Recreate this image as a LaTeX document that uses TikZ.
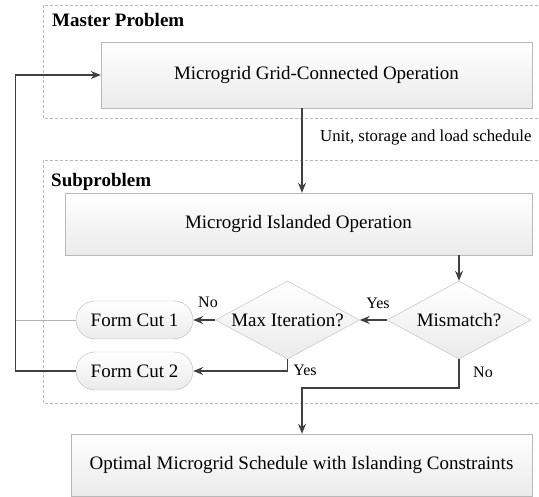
\documentclass[tikz,border=0pt]{standalone}
\usepackage{fontspec}
\setmainfont{Liberation Serif}
\usetikzlibrary{shapes.geometric,arrows.meta}

\begin{document}
\begin{tikzpicture}[x=1pt,y=-1pt,
    box/.style={draw=gray!55, top color=white, bottom color=gray!16, inner sep=0pt,
                font=\fontsize{19}{22}\selectfont},
    decide/.style={diamond, draw=gray!55, top color=white, bottom color=gray!16, aspect=1.9,
                minimum width=144pt, minimum height=78pt, inner sep=0pt, font=\fontsize{19}{22}\selectfont},
    cut/.style={draw=gray!55, top color=white, bottom color=gray!16, rounded corners=19pt,
                minimum width=117pt, minimum height=38pt, font=\fontsize{19}{22}\selectfont},
    frame/.style={draw=gray!55, dash pattern=on 3pt off 2pt},
    flow/.style={draw=black!75, line width=1.4pt, -{Stealth[length=10pt,width=8pt]}},
    tag/.style={font=\fontsize{16}{19}\selectfont, inner sep=0pt},
    title/.style={font=\fontsize{19}{22}\selectfont\bfseries, anchor=west, inner sep=0pt}]
                \useasboundingbox (0,0) rectangle (539,497);
                \clip (0,0) rectangle (539,497);

                \coordinate (rail) at (15.5,0);
                \coordinate (drop) at (302,0);
                \coordinate (bend) at (302,388);

                \draw[frame] (43,5) rectangle (560,118);
                \draw[frame] (43,160) rectangle (560,403);

                \node [title] (mtitle) at (52,20) {Master Problem};
                \node [title] (stitle) at (51,182) {Subproblem};

                \node [box, minimum width=431pt, minimum height=66pt] (grid) at (316.5,75) {Microgrid Grid-Connected Operation};
                \node [box, minimum width=467pt, minimum height=62pt] (island) at (298.5,224) {Microgrid Islanded Operation};
                \node [decide] (mism) at (459,320) {Mismatch?};
                \node [decide] (maxit) at (287.5,320) {Max Iteration?};
                \node [cut] (cut1) at (134.5,320) {Form Cut 1};
                \node [cut] (cut2) at (134.5,371) {Form Cut 2};
                \node [box, minimum width=461pt, minimum height=62pt] (opt) at (301.5,465) {Optimal Microgrid Schedule with Islanding Constraints};

                \node [tag, anchor=west, font=\fontsize{16.8}{20}\selectfont] (sched) at (320,137) {Unit, storage and load schedule};
                \node [tag] (no1) at (208,302) {No};
                \node [tag] (yes1) at (378,303) {Yes};
                \node [tag] (yes2) at (305,370) {Yes};
                \node [tag] (no2) at (483,372) {No};

                \draw[flow] (grid.south -| drop) -- (island.north -| drop);
                \draw[flow] (island.south -| mism.north) -- (mism.north);
                \draw[flow] (mism.west) -- (maxit.east);
                \draw[flow] (maxit.west) -- (cut1.east);
                \draw[flow] (maxit.south) |- (cut2.east);
                \draw[flow] (mism.south) |- (bend) -- (opt.north -| bend);
                \draw[flow] (cut2.west) -- (cut2.west -| rail) |- (grid.west);
                \draw[gray!60, line width=0.8pt] (cut1.west) -- (cut1.west -| rail);

                \end{tikzpicture}
\end{document}
